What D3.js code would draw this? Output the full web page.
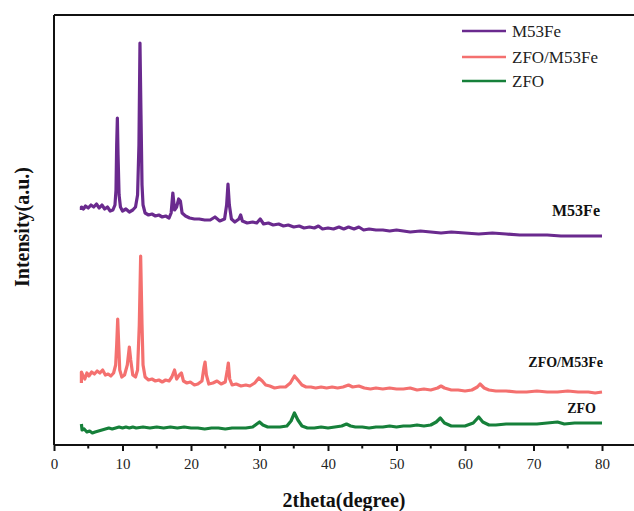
<!DOCTYPE html>
<html><head><meta charset="utf-8">
<script src="https://cdn.jsdelivr.net/npm/d3@7"></script>
<style>body{margin:0;background:#fff}svg{display:block}</style>
</head><body>
<svg id="c" width="634" height="511"></svg>
<script>
const seriesNames = ["M53Fe", "ZFO/M53Fe", "ZFO"];
const seriesColors = ["#6a2a8e", "#f4706f", "#16803a"];
const xTicks = [0, 10, 20, 30, 40, 50, 60, 70, 80];
const xMinorTicks = [5, 15, 25, 35, 45, 55, 65, 75];
const xLabel = "2theta(degree)";
const yLabel = "Intensity(a.u.)";

const m53fe = [[4.0,235],[4.0,238],[4.3,236],[4.6,239],[5.0,237],[5.4,240],[5.8,238],[6.2,241],[6.6,237],[7.0,240],[7.4,236],[7.8,238],[8.2,234],[8.6,235],[8.9,240],[9.05,255],[9.15,300],[9.25,327],[9.35,290],[9.5,250],[9.7,238],[10.0,234],[10.5,236],[11.0,233],[11.5,235],[11.9,238],[12.2,250],[12.4,300],[12.55,402],[12.7,330],[12.85,260],[13.0,240],[13.3,232],[13.8,230],[14.3,231],[14.8,229],[15.3,230],[15.8,228],[16.3,229],[16.8,227],[17.1,232],[17.35,252],[17.6,235],[17.9,238],[18.2,246],[18.45,244],[18.7,232],[19.2,229],[19.8,227],[20.5,226],[21.2,226],[22.0,225],[22.8,225],[23.5,228],[24.2,224],[24.9,226],[25.2,240],[25.4,261],[25.6,240],[25.9,226],[26.4,223],[27.0,226],[27.25,230],[27.5,224],[28.2,222],[29.0,223],[29.6,222],[30.1,226],[30.6,221],[31.3,222],[32.0,220],[32.8,221],[33.5,219],[34.2,220],[35.0,218],[35.8,219],[36.5,217],[37.3,218],[38.0,217],[38.6,219],[39.2,216],[40.0,217],[40.8,216],[41.6,218],[42.3,216],[43.0,218],[43.8,216],[44.5,218],[45.2,215],[46.0,216],[47.0,215],[48.0,215],[49.0,214],[50.0,215],[51.0,214],[52.0,213],[53.5,214],[55.0,213],[56.5,212],[58.0,213],[60.0,212],[62.0,211],[64.0,212],[66.0,211],[68.0,210],[70.0,210],[72.0,210],[74.0,209],[76.0,209],[78.0,209],[80.0,209]];

const zfoM53fe = [[4.0,62],[4.0,73],[4.2,70],[4.5,66],[4.8,72],[5.1,69],[5.5,73],[5.9,71],[6.3,74],[6.7,72],[7.1,75],[7.5,70],[7.9,71],[8.3,69],[8.7,72],[9.0,80],[9.15,100],[9.3,126],[9.45,100],[9.6,75],[9.9,68],[10.3,70],[10.7,80],[11.0,98],[11.2,85],[11.5,70],[11.9,68],[12.2,75],[12.45,120],[12.65,189],[12.85,120],[13.0,80],[13.3,68],[13.8,65],[14.3,66],[14.8,64],[15.3,65],[15.8,63],[16.3,65],[16.8,64],[17.2,68],[17.6,75],[17.9,66],[18.3,70],[18.6,72],[18.9,64],[19.4,62],[19.9,63],[20.5,60],[21.0,61],[21.6,64],[21.9,78],[22.05,83],[22.25,70],[22.6,61],[23.2,62],[23.8,64],[24.4,61],[25.0,63],[25.3,75],[25.45,82],[25.65,66],[26.0,60],[26.6,61],[27.3,59],[28.0,60],[28.6,59],[29.3,62],[29.9,67],[30.4,64],[30.9,60],[31.5,59],[32.2,57],[33.0,58],[33.8,58],[34.5,62],[35.1,69],[35.6,65],[36.2,60],[36.8,58],[37.5,58],[38.2,57],[39.0,58],[39.8,57],[40.6,58],[41.4,57],[42.2,58],[43.0,60],[43.6,58],[44.5,59],[45.3,57],[46.2,56],[47.0,57],[48.0,56],[49.0,57],[50.0,56],[51.0,56],[52.0,57],[53.0,55],[54.0,56],[55.0,55],[56.0,57],[56.5,59],[57.0,57],[58.0,55],[59.0,55],[60.0,54],[61.0,55],[61.8,58],[62.2,61],[62.8,57],[63.5,55],[64.5,54],[66.0,54],[67.5,53],[69.0,53],[70.5,54],[72.0,53],[73.5,53],[75.0,54],[76.5,53],[78.0,53],[79.0,52],[80.0,53]];

const zfo = [[4.0,21],[4.1,15],[4.4,16],[4.8,13],[5.2,14],[5.6,12],[6.0,13],[6.5,14],[7.0,15],[7.5,16],[8.0,17],[8.5,16],[9.0,17],[9.5,18],[10.0,17],[10.5,18],[11.0,17],[11.5,18],[12.0,17],[13.0,18],[14.0,17],[15.0,18],[16.0,17],[17.0,18],[18.0,17],[19.0,18],[20.0,17],[21.0,17],[22.0,16],[23.0,17],[24.0,17],[25.0,16],[26.0,17],[27.0,17],[28.0,17],[29.0,18],[29.6,21],[30.0,23],[30.5,20],[31.2,18],[32.0,18],[33.0,18],[34.0,19],[34.6,24],[35.1,32],[35.6,25],[36.2,19],[37.0,17],[38.0,17],[39.0,18],[40.0,17],[41.0,18],[42.0,19],[42.7,21],[43.3,19],[44.0,18],[45.0,18],[46.0,17],[47.0,18],[48.0,18],[49.0,19],[50.0,18],[51.0,19],[52.0,19],[53.0,20],[54.0,19],[55.0,20],[55.8,23],[56.4,27],[57.0,22],[58.0,19],[59.0,19],[60.0,19],[61.2,22],[62.0,28],[62.6,23],[63.5,20],[64.5,20],[66.0,21],[67.5,21],[69.0,21],[70.5,21],[72.0,22],[73.5,23],[74.5,21],[76.0,22],[78.0,22],[80.0,22]];

const allSeries = [m53fe, zfoM53fe, zfo];

const svg = d3.select("#c");
const x = d3.scaleLinear().domain([0, 85]).range([54, 636.25]);
const y = d3.scaleLinear().domain([0, 430]).range([445, 15]);
const serif = "'Liberation Serif','Times New Roman',serif";

const line = d3.line().x(d => x(d[0])).y(d => y(d[1])).curve(d3.curveLinear);
allSeries.forEach((s, i) => {
  svg.append("path").datum(s).attr("d", line)
    .attr("fill", "none").attr("stroke", seriesColors[i])
    .attr("stroke-width", 3.2).attr("stroke-linejoin", "round");
});

svg.append("line").attr("x1", x(0)).attr("x2", x(0)).attr("y1", y(430)).attr("y2", y(0))
  .attr("stroke", "#111").attr("stroke-width", 2);
svg.append("line").attr("x1", x(0)).attr("x2", x(85)).attr("y1", y(430)).attr("y2", y(430))
  .attr("stroke", "#111").attr("stroke-width", 2);

const ax = svg.append("g").attr("transform", `translate(0,${y(0)})`)
  .call(d3.axisBottom(x).tickValues(xTicks).tickSize(6).tickPadding(7).tickFormat(d3.format("d")));
ax.select(".domain").attr("stroke", "#111").attr("stroke-width", 2).attr("d", `M${x(0)},0H${x(85)}`);
ax.selectAll(".tick line").attr("stroke", "#111").attr("stroke-width", 2);
ax.selectAll(".tick text").attr("font-family", serif).attr("font-size", 15).attr("fill", "#222").attr("dy", "0.71em");
const minor = svg.append("g").attr("transform", `translate(0,${y(0)})`);
minor.selectAll("line").data(xMinorTicks).join("line")
  .attr("x1", d => x(d)).attr("x2", d => x(d)).attr("y1", 0).attr("y2", 3.5)
  .attr("stroke", "#111").attr("stroke-width", 2);

svg.append("text").attr("x", 344).attr("y", 507).attr("text-anchor", "middle")
  .attr("font-family", serif).attr("font-weight", "bold").attr("font-size", 20).attr("fill", "#111").text(xLabel);
svg.append("text").attr("transform", "translate(29,227) rotate(-90)").attr("text-anchor", "middle")
  .attr("font-family", serif).attr("font-weight", "bold").attr("font-size", 20).attr("fill", "#111").text(yLabel);

const legY = [31, 57, 81];
seriesNames.forEach((n, i) => {
  svg.append("line").attr("x1", 462).attr("x2", 506).attr("y1", legY[i]).attr("y2", legY[i])
    .attr("stroke", seriesColors[i]).attr("stroke-width", 2.5);
  svg.append("text").attr("x", 512).attr("y", legY[i] + 6).attr("font-family", serif)
    .attr("font-size", 17).attr("fill", "#222").text(n);
});

const labelPos = [[600, 216, 16], [603, 367, 14], [596, 413, 14]];
seriesNames.forEach((n, i) => {
  svg.append("text").attr("x", labelPos[i][0]).attr("y", labelPos[i][1]).attr("text-anchor", "end")
    .attr("font-family", serif).attr("font-weight", "bold").attr("font-size", labelPos[i][2]).attr("fill", "#111").text(n);
});
</script>
</body></html>
